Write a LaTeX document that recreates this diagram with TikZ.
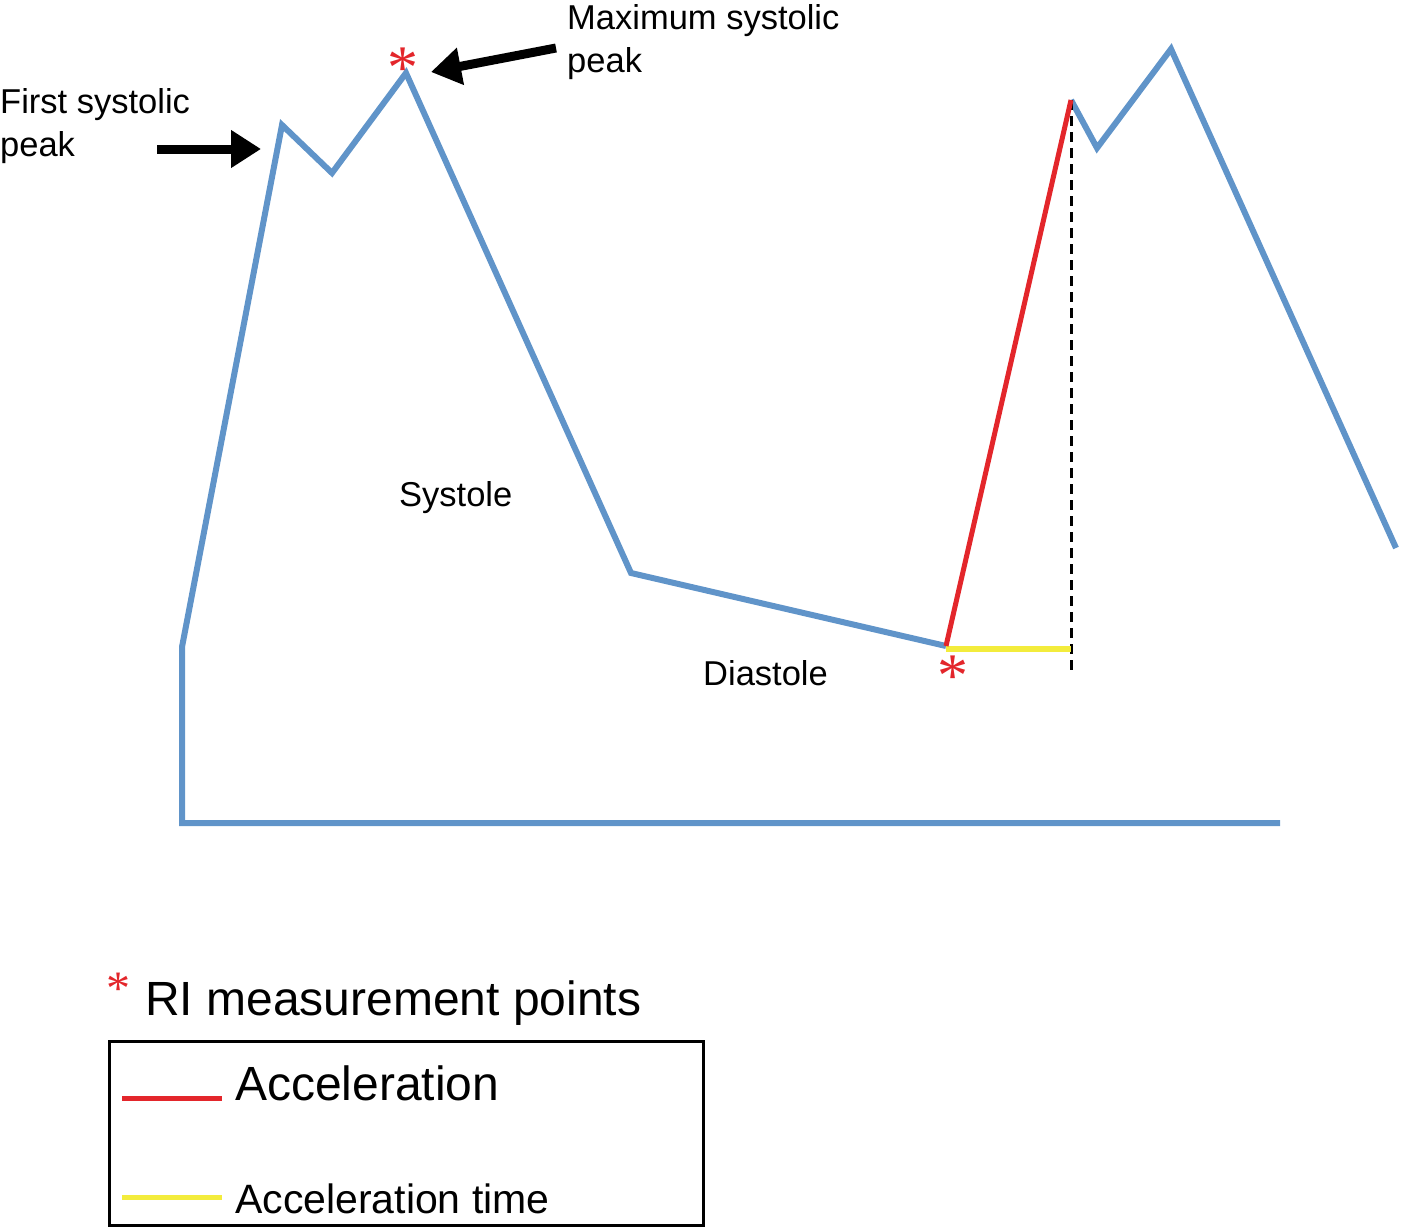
\documentclass[tikz,border=0pt]{standalone}
\usepackage{fontspec}
\setmainfont{Liberation Sans}
\newfontfamily\astfont{Liberation Serif}
\usetikzlibrary{arrows.meta, positioning}
\definecolor{wavblue}{HTML}{6094C9}
\definecolor{accred}{HTML}{E3262B}
\definecolor{accyellow}{HTML}{F3EC3C}

\begin{document}
\begin{tikzpicture}[x=1pt, y=-1pt,
  every node/.style={inner sep=0pt, anchor=base west},
  lbl/.style={font=\fontsize{34.5}{43}\selectfont, align=left},
  legtxt/.style={font=\fontsize{48}{48}\selectfont},
  astmark/.style={text=accred, font=\astfont\fontsize{62}{62}\selectfont, anchor=center, yshift=-8pt},
  wave/.style={wavblue, line width=6pt},
  callout/.style={-{Triangle[length=30pt,width=36pt]}, line width=9pt}]
  \useasboundingbox (0,0) rectangle (1413,1226);
  % waveform points
  \coordinate (b0) at (1280,823);
  \coordinate (b1) at (182,823);
  \coordinate (b2) at (182,647);
  \coordinate (p1) at (282,125);
  \coordinate (n1) at (332,173);
  \coordinate (pmax) at (406,73);
  \coordinate (d0) at (631,573);
  \coordinate (d1) at (946,646);
  \coordinate (p2) at (1071,100);
  \coordinate (n2) at (1097,148);
  \coordinate (p3) at (1171,49);
  \coordinate (e) at (1396,548);
  \coordinate (t0) at (946,649);
  \coordinate (t1) at (1071,649);
  \coordinate (dbot) at (1071,673);
  % the Doppler trace
  \draw[wave] (b0) -- (b1) -- (b2) -- (p1) -- (n1) -- (pmax) -- (d0) -- (d1);
  \draw[wave] (p2) -- (n2) -- (p3) -- (e);
  \draw[black, line width=3pt, dash pattern=on 10pt off 6pt] (p2) -- (dbot);
  \draw[accyellow, line width=6pt] (t0) -- (t1);
  \draw[accred, line width=5pt] (d1) -- (p2);
  % labels
  \node[lbl] (first) at (0,156) {First systolic\\peak};
  \node[lbl] (maxi) at (567,72) {Maximum systolic\\peak};
  \node[lbl] (sys) at (399,506) {Systole};
  \node[lbl] (dia) at (703,685) {Diastole};
  \node[astmark] (ast1) at (403,60) {*};
  \node[astmark] (ast2) at (953,668) {*};
  \coordinate (firsttail) at (157,149);
  \coordinate (firsthead) at (261,149);
  \coordinate (maxitail) at (556,48);
  \coordinate (maxihead) at (431,72);
  \draw[callout] (firsttail) -- (firsthead);
  \draw[callout] (maxitail) -- (maxihead);
  % legend
  \node[astmark, font=\astfont\fontsize{48}{48}\selectfont, yshift=5pt] (ast3) at (118,986) {*};
  \node[legtxt] (ri) at (145,1015) {RI measurement points};
  \node[draw, line width=3pt, minimum width=594pt, minimum height=184pt, anchor=north west] (legbox) at (108,1040) {};
  \coordinate (redl) at (122,1098);
  \coordinate (redr) at (222,1098);
  \coordinate (yell) at (122,1197);
  \coordinate (yelr) at (222,1197);
  \draw[accred, line width=5pt] (redl) -- (redr);
  \draw[accyellow, line width=5pt] (yell) -- (yelr);
  \node[legtxt] (accel) at (235,1100) {Acceleration};
  \node[legtxt, font=\fontsize{41}{41}\selectfont] (acct) at (235,1213) {Acceleration time};
\end{tikzpicture}
\end{document}
